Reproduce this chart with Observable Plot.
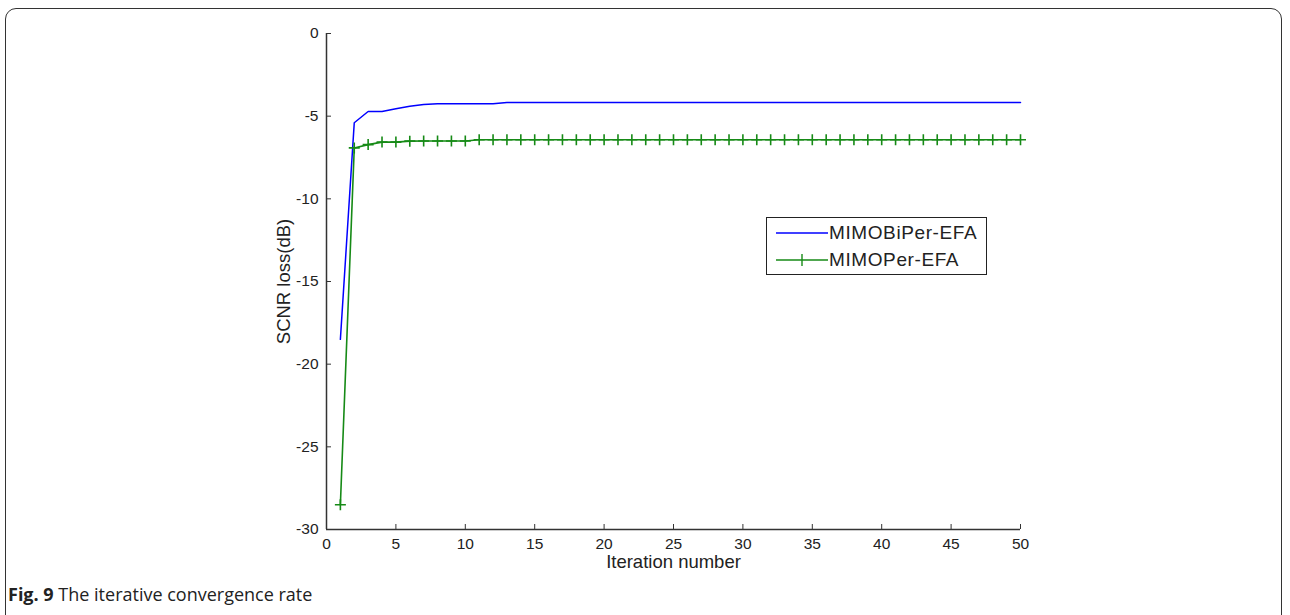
<!DOCTYPE html>
<html>
<head>
<meta charset="utf-8">
<script src="https://cdn.jsdelivr.net/npm/d3@7"></script>
<script src="https://cdn.jsdelivr.net/npm/@observablehq/plot@0.6"></script>
<style>
  html, body { margin: 0; padding: 0; background: #fff; }
  #wrap { position: relative; width: 1290px; height: 615px; overflow: hidden; background: #fff; }
  #frame { position: absolute; left: 5px; top: 8px; width: 1277px; height: 660px; border: 1.5px solid #333; border-radius: 11px; box-sizing: border-box; }
  #chart { position: absolute; left: 0; top: 0; }
  #legend { position: absolute; left: 766px; top: 217px; width: 221px; height: 58px; border: 1px solid #222; box-sizing: border-box; background: #fff; font-family: "Liberation Sans", Arial, sans-serif; font-size: 19px; letter-spacing: 0.6px; color: #222; }
  .lrow { position: absolute; left: 9px; height: 20px; display: flex; align-items: center; }
  .lrow svg { display: block; }
  .lrow span { margin-left: 1px; }
  #caption { position: absolute; left: 8px; top: 582px; font-family: "Open Sans", sans-serif; font-size: 18px; color: #222; white-space: nowrap; }
</style>
</head>
<body>
<div id="wrap">
  <div id="frame"></div>
  <div id="chart"></div>
  <div id="legend"></div>
  <div id="caption"><b>Fig. 9</b> The iterative convergence rate</div>
</div>
<script>
// ---- data ----
const iterations = d3.range(1, 51);
const biPerValues = [-18.5, -5.4, -4.72, -4.72, -4.55, -4.4, -4.3, -4.25, -4.25, -4.25, -4.25, -4.25,
  -4.18, -4.18, -4.18, -4.18, -4.18, -4.18, -4.18, -4.18, -4.18, -4.18, -4.18, -4.18, -4.18,
  -4.18, -4.18, -4.18, -4.18, -4.18, -4.18, -4.18, -4.18, -4.18, -4.18, -4.18, -4.18, -4.18,
  -4.18, -4.18, -4.18, -4.18, -4.18, -4.18, -4.18, -4.18, -4.18, -4.18, -4.18, -4.18];
const perValues = [-28.5, -6.92, -6.72, -6.57, -6.57, -6.51, -6.5, -6.5, -6.5, -6.5, -6.43, -6.43,
  -6.43, -6.43, -6.43, -6.43, -6.43, -6.43, -6.43, -6.43, -6.43, -6.43, -6.43, -6.43, -6.43,
  -6.43, -6.43, -6.43, -6.43, -6.43, -6.43, -6.43, -6.43, -6.43, -6.43, -6.43, -6.43, -6.43,
  -6.43, -6.43, -6.43, -6.43, -6.43, -6.43, -6.43, -6.43, -6.43, -6.43, -6.43, -6.43];
const seriesNames = ["MIMOBiPer-EFA", "MIMOPer-EFA"];
const seriesColors = ["#0000ff", "#168a16"];
const xTicks = [0, 5, 10, 15, 20, 25, 30, 35, 40, 45, 50];
const yTicks = [0, -5, -10, -15, -20, -25, -30];

const biPer = iterations.map((x, i) => ({x, y: biPerValues[i]}));
const per = iterations.map((x, i) => ({x, y: perValues[i]}));

const plusSymbol = {
  draw(context, size) {
    const r = Math.sqrt(size / Math.PI);
    context.moveTo(-r, 0); context.lineTo(r, 0);
    context.moveTo(0, -r); context.lineTo(0, r);
  }
};

const axisColor = "#333";
const chart = Plot.plot({
  width: 1290,
  height: 580,
  marginLeft: 326,
  marginRight: 270,
  marginTop: 33,
  marginBottom: 51,
  style: {fontFamily: "'Liberation Sans', Arial, sans-serif", fontSize: "15.5px", color: "#222", background: "transparent"},
  x: {domain: [0, 50]},
  y: {domain: [-30, 0]},
  marks: [
    Plot.line(biPer, {x: "x", y: "y", stroke: seriesColors[0], strokeWidth: 1.5}),
    Plot.line(per, {x: "x", y: "y", stroke: seriesColors[1], strokeWidth: 1.6}),
    Plot.dot(per, {x: "x", y: "y", symbol: plusSymbol, r: 5.5, stroke: seriesColors[1], strokeWidth: 1.6, fill: "none"}),
    Plot.ruleX([0], {stroke: axisColor, strokeWidth: 1.5}),
    Plot.ruleY([-30], {stroke: axisColor, strokeWidth: 1.5}),
    Plot.axisY(yTicks, {anchor: "left", tickSize: -5, tickPadding: 13, stroke: axisColor, fill: "#222", tickFormat: d => String(d).replace("−", "-"), label: null}),
    Plot.axisX(xTicks, {anchor: "bottom", tickSize: -5, tickPadding: 13, stroke: axisColor, fill: "#222", label: null}),
    Plot.text(["Iteration number"], {frameAnchor: "bottom", dy: 38, fontSize: 18.5, letterSpacing: 0.4, fill: "#222"}),
    Plot.text(["SCNR loss(dB)"], {frameAnchor: "left", textAnchor: "middle", dx: -42, rotate: -90, fontSize: 18.5, letterSpacing: 0.4, fill: "#222"})
  ]
});
document.getElementById("chart").appendChild(chart);

// legend
const legend = document.getElementById("legend");
seriesNames.forEach((name, i) => {
  const row = document.createElement("div");
  row.className = "lrow";
  row.style.top = (i === 0 ? 5 : 32) + "px";
  const marker = i === 1 ? `<line x1="26" y1="4" x2="26" y2="16" stroke="${seriesColors[i]}" stroke-width="1.4"/>` : "";
  row.innerHTML = `<svg width="52" height="20"><line x1="0" y1="10" x2="52" y2="10" stroke="${seriesColors[i]}" stroke-width="1.4"/>${marker}</svg><span>${name}</span>`;
  legend.appendChild(row);
});
</script>
</body>
</html>
